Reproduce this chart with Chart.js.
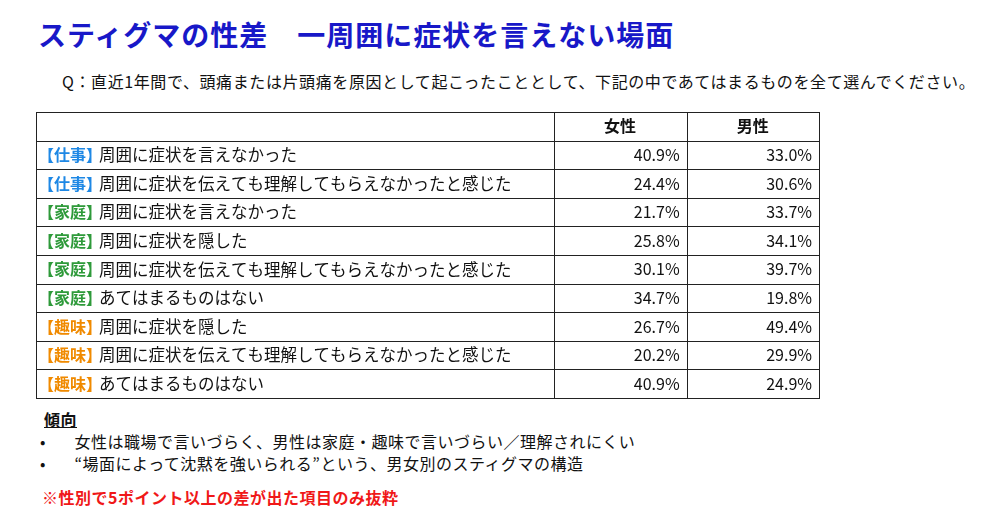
<!DOCTYPE html>
<html><head><meta charset="utf-8">
<script src="https://cdn.jsdelivr.net/npm/chart.js@4"></script>
<style>
body{margin:0;width:1000px;height:524px;background:#fff;font-family:"Noto Sans CJK JP",sans-serif;position:relative;overflow:hidden}
#title{position:absolute;left:38px;top:14px;font-size:28px;font-weight:bold;color:#1818c8;letter-spacing:1px}
#q{position:absolute;left:62px;top:69px;font-size:16px;color:#111;letter-spacing:0.6px}
#wrap{position:absolute;left:35px;top:111px}
.n{position:absolute;font-size:16px;color:#111;letter-spacing:0.5px}
</style></head><body>
<div id="title">スティグマの性差　一周囲に症状を言えない場面</div>
<div id="q">Q：直近1年間で、頭痛または片頭痛を原因として起こったこととして、下記の中であてはまるものを全て選んでください。</div>
<div id="wrap"><canvas id="c" width="786" height="289"></canvas></div>
<div class="n" style="left:44px;top:407px;font-weight:bold;text-decoration:underline">傾向</div>
<div class="n" style="left:40px;top:429px">•&nbsp;&nbsp;&nbsp;&nbsp;&nbsp;&nbsp;&nbsp;女性は職場で言いづらく、男性は家庭・趣味で言いづらい／理解されにくい</div>
<div class="n" style="left:40px;top:451px">•&nbsp;&nbsp;&nbsp;&nbsp;&nbsp;&nbsp;&nbsp;“場面によって沈黙を強いられる”という、男女別のスティグマの構造</div>
<div class="n" style="left:42px;top:485px;font-weight:bold;color:#f01818">※性別で5ポイント以上の差が出た項目のみ抜粋</div>
<script>
const scenes = ['仕事','仕事','家庭','家庭','家庭','家庭','趣味','趣味','趣味'];
const items = [
  '周囲に症状を言えなかった',
  '周囲に症状を伝えても理解してもらえなかったと感じた',
  '周囲に症状を言えなかった',
  '周囲に症状を隠した',
  '周囲に症状を伝えても理解してもらえなかったと感じた',
  'あてはまるものはない',
  '周囲に症状を隠した',
  '周囲に症状を伝えても理解してもらえなかったと感じた',
  'あてはまるものはない'
];
const female = [40.9, 24.4, 21.7, 25.8, 30.1, 34.7, 26.7, 20.2, 40.9];
const male = [33.0, 30.6, 33.7, 34.1, 39.7, 19.8, 49.4, 29.9, 24.9];
const columns = ['', '女性', '男性'];
const sceneColors = {'仕事': '#1e88e5', '家庭': '#2e9a3a', '趣味': '#f08a00'};
const colEdges = [0, 0.661, 0.831, 1];

const rowLabels = ['header'].concat(items.map((t, i) => scenes[i] + t));

const tablePlugin = {
  id: 'table',
  afterDraw(chart) {
    const ctx = chart.ctx
    const x = chart.scales.x, y = chart.scales.y
    const n = rowLabels.length
    const band = (y.bottom - y.top) / n
    ctx.save()
    ctx.strokeStyle = '#222'
    ctx.lineWidth = 1
    for (let i = 0; i <= n; i++) {
      const py = Math.round(y.top + i * band) + 0.5
      ctx.beginPath(); ctx.moveTo(x.left, py); ctx.lineTo(x.right + 1, py); ctx.stroke()
    }
    colEdges.forEach(e => {
      const px = Math.round(x.getPixelForValue(e)) + 0.5
      ctx.beginPath(); ctx.moveTo(px, y.top); ctx.lineTo(px, y.bottom + 1); ctx.stroke()
    })
    ctx.textBaseline = 'middle'
    ctx.font = 'bold 16px "Noto Sans CJK JP"'
    ctx.fillStyle = '#111'
    ctx.textAlign = 'center'
    for (let c = 1; c < columns.length; c++) {
      const cx = x.getPixelForValue((colEdges[c] + colEdges[c + 1]) / 2)
      ctx.fillText(columns[c], cx, y.getPixelForValue(0))
    }
    items.forEach((t, i) => {
      const cy = y.getPixelForValue(i + 1)
      const tag = '【' + scenes[i] + '】'
      ctx.textAlign = 'left'
      ctx.font = 'bold 16px "Noto Sans CJK JP"'
      ctx.fillStyle = sceneColors[scenes[i]]
      const lx = x.left + 2
      ctx.fillText(tag, lx, cy)
      const w = ctx.measureText(tag).width
      ctx.font = '16.5px "Noto Sans CJK JP"'
      ctx.fillStyle = '#111'
      ctx.fillText(t, lx + w - 3, cy)
      ctx.font = '16px "Noto Sans CJK JP"'
      ctx.textAlign = 'right'
      ctx.fillText(female[i].toFixed(1) + '%', x.getPixelForValue(colEdges[2]) - 7, cy)
      ctx.fillText(male[i].toFixed(1) + '%', x.getPixelForValue(colEdges[3]) - 7, cy)
    })
    ctx.restore()
  }
}

new Chart(document.getElementById('c'), {
  type: 'bar',
  data: { labels: rowLabels, datasets: [{ data: [] }] },
  options: {
    responsive: false,
    animation: false,
    indexAxis: 'y',
    layout: { padding: { left: 1, right: 2, top: 1, bottom: 2 } },
    plugins: { legend: { display: false }, tooltip: { enabled: false } },
    scales: {
      x: { type: 'linear', min: 0, max: 1, display: false },
      y: { type: 'category', display: false, offset: true }
    }
  },
  plugins: [tablePlugin]
})
</script>
</body></html>
